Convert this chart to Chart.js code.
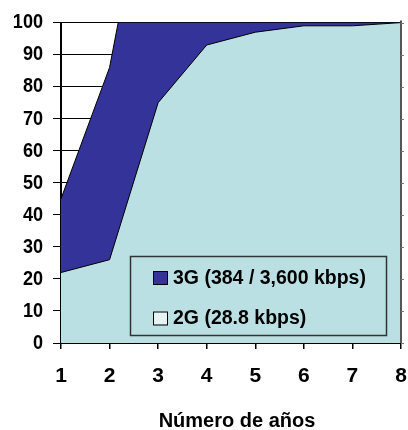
<!DOCTYPE html>
<html><head><meta charset="utf-8">
<script src="https://cdn.jsdelivr.net/npm/chart.js@4.4.1/dist/chart.umd.min.js"></script>
<style>html,body{margin:0;padding:0;background:#fff}#wrap{width:408px;height:430px}</style>
</head><body><div id="wrap"><canvas id="c" width="408" height="430"></canvas></div>
<script>
const years = ['1','2','3','4','5','6','7','8'];
const series3GLabel = '3G (384 / 3,600 kbps)';
const series2GLabel = '2G (28.8 kbps)';
const values3G = [45, 86, 165, 180, 180, 180, 180, 180];
const values2G = [22, 26, 75, 93, 97, 99, 99, 100];
const yTicks = [0,10,20,30,40,50,60,70,80,90,100];
const xTitle = 'Número de años';

const FONT = "'Liberation Sans', Arial, sans-serif";

// condense tick labels horizontally (narrow bold face in the reference), and nudge the x title
const patchPlugin = {
  id: 'patch',
  beforeDraw(chart) {
    const ys = chart.scales.y;
    if (ys && !ys._patched) {
      const orig = ys.drawLabels;
      ys.drawLabels = function (area) {
        const ctx = this.ctx;
        const ax = this.right - 8 - 10;
        ctx.save();
        ctx.translate(ax, 0); ctx.scale(0.86, 1); ctx.translate(-ax, 0);
        orig.call(this, area);
        ctx.restore();
      };
      ys._patched = true;
    }
    const xs = chart.scales.x;
    if (xs && !xs._patched) {
      const origT = xs.drawTitle;
      xs.drawTitle = function () {
        const ctx = this.ctx;
        ctx.save(); ctx.translate(6, 0);
        origT.call(this);
        ctx.restore();
      };
      xs._patched = true;
    }
  }
};

const extrasPlugin = {
  id: 'extras',
  afterDatasetsDraw(chart) {
    const ctx = chart.ctx;
    const area = chart.chartArea;
    const ys = chart.scales.y;
    ctx.save();
    // right-hand secondary axis line with small ticks
    ctx.strokeStyle = '#555';
    ctx.lineWidth = 2;
    ctx.beginPath();
    ctx.moveTo(area.right, area.top - 2);
    ctx.lineTo(area.right, area.bottom);
    ctx.stroke();
    ctx.lineWidth = 1;
    ctx.strokeStyle = '#777';
    yTicks.forEach(v => {
      const py = Math.round(ys.getPixelForValue(v)) + 0.5;
      ctx.beginPath();
      ctx.moveTo(area.right, py);
      ctx.lineTo(area.right + 3, py);
      ctx.stroke();
    });
    // legend box
    ctx.strokeStyle = '#333';
    ctx.lineWidth = 1.5;
    ctx.strokeRect(130.5, 256.5, 256, 79);
    const items = [chart.data.datasets[0], chart.data.datasets[1]];
    const rows = [277.5, 318];
    ctx.font = "bold 19.5px " + FONT;
    ctx.textBaseline = 'middle';
    ctx.textAlign = 'left';
    items.forEach((ds, i) => {
      const cy = rows[i];
      ctx.fillStyle = ds.legendColor;
      ctx.fillRect(153, cy - 6.5, 14, 13);
      ctx.strokeStyle = '#000';
      ctx.lineWidth = 1;
      ctx.strokeRect(153.5, cy - 6, 14, 13);
      ctx.fillStyle = '#000';
      ctx.fillText(ds.label, 173, cy + 1);
    });
    ctx.restore();
  }
};

new Chart(document.getElementById('c'), {
  type: 'line',
  data: {
    labels: years,
    datasets: [
      { label: series3GLabel, data: values3G, fill: 'origin', backgroundColor: '#333399', legendColor: '#333399',
        borderColor: '#000', borderWidth: 1, pointRadius: 0, tension: 0, order: 2 },
      { label: series2GLabel, data: values2G, fill: 'origin', backgroundColor: '#bbe0e3', legendColor: '#e6f3f4',
        borderColor: '#000', borderWidth: 1, pointRadius: 0, tension: 0, order: 1 }
    ]
  },
  options: {
    responsive: false,
    animation: false,
    devicePixelRatio: 1,
    layout: { padding: { top: 20, left: 0, right: 7, bottom: 0 } },
    plugins: { legend: { display: false }, tooltip: { enabled: false } },
    scales: {
      x: {
        type: 'category',
        offset: false,
        grid: { drawOnChartArea: false, color: '#000', tickLength: 6, lineWidth: 1.5 },
        border: { color: '#000', width: 2 },
        ticks: { color: '#000', font: { family: FONT, size: 21, weight: 'bold', lineHeight: 2.6 }, padding: 0, maxRotation: 0, autoSkip: false },
        title: { display: true, text: xTitle, color: '#000', font: { family: FONT, size: 20, weight: 'bold' }, padding: { top: 0, bottom: -3 } },
        afterFit(s) { s.height = 87; }
      },
      y: {
        min: 0, max: 100,
        afterBuildTicks(s) { s.ticks = yTicks.map(v => ({ value: v })); },
        grid: { color: '#000', lineWidth: 1, tickLength: 8 },
        border: { color: '#000', width: 2 },
        ticks: { color: '#000', font: { family: FONT, size: 21, weight: 'bold' }, padding: 10 },
        afterFit(s) { s.width = 61; }
      }
    }
  },
  plugins: [patchPlugin, extrasPlugin]
});
</script></body></html>
